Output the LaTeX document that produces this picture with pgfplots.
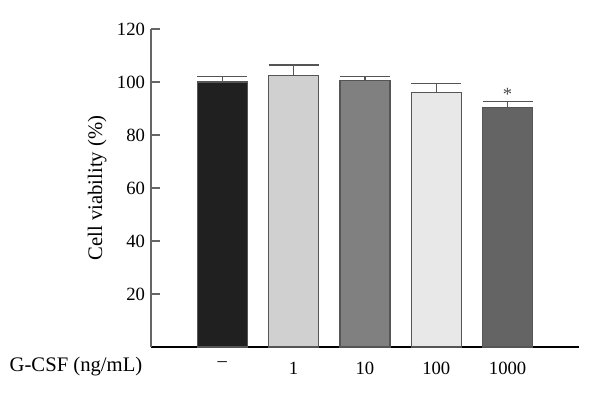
\documentclass[border=0pt]{standalone}
\usepackage{pgfplots}
\pgfplotsset{compat=1.18}
\usepackage{fontspec}
\setmainfont{Liberation Serif}
\definecolor{b1}{HTML}{202020}
\definecolor{b2}{HTML}{D0D0D0}
\definecolor{b3}{HTML}{808080}
\definecolor{b4}{HTML}{E8E8E8}
\definecolor{b5}{HTML}{646464}
\definecolor{edge}{HTML}{555555}
\begin{document}
\begin{tikzpicture}
\begin{axis}[
  scale only axis,
  width=321pt, height=238.5pt,
  xmin=-1, xmax=5, ymin=0, ymax=120,
  axis x line*=bottom, axis y line*=left,
  x axis line style={black, line width=0.9pt, -},
  y axis line style={color=black!60, line width=0.9pt, -},
  xtick={0,1,2,3,4}, xticklabels={--,1,10,100,1000},
  xtick style={draw=none},
  ytick={20,40,60,80,100,120},
  ytick style={color=black!60, line width=0.9pt},
  tick align=inside, major tick length=6.75pt,
  /pgf/number format/assume math mode=true,
  tick label style={font=\fontsize{14}{16}\selectfont},
  yticklabel style={xshift=-1pt},
  xticklabel style={yshift=-1pt},
  ylabel={\fontsize{15.5}{17}\selectfont Cell viability (\%)},
  ylabel style={yshift=1pt},
  ybar, bar width=37.5pt, bar shift=0pt,
  every axis plot/.append style={draw=edge, line width=0.8pt},
  error bars/y dir=plus, error bars/y explicit,
  error bars/error bar style={draw=edge, line width=0.9pt},
  error bars/error mark options={draw=edge, line width=0.9pt, rotate=90, mark size=18.75pt},
  clip=false,
]
\addplot[fill=b1] coordinates {(0,100) +- (0,2.2)};
\addplot[fill=b2] coordinates {(1,102.3) +- (0,4.1)};
\addplot[fill=b3] coordinates {(2,100.5) +- (0,1.5)};
\addplot[fill=b4] coordinates {(3,96.1) +- (0,3.4)};
\addplot[fill=b5] coordinates {(4,90.4) +- (0,2.2)};
\node[font=\fontsize{14}{14}\selectfont, text=black!70] at (axis cs:4,95.2) {*};
\end{axis}
\node[font=\fontsize{15.5}{17}\selectfont] at (-56.25pt,-14.5pt) {G-CSF (ng/mL)};
\path[use as bounding box] (-113.25pt,-37.5pt) rectangle (336.75pt,260.25pt);
\end{tikzpicture}
\end{document}
